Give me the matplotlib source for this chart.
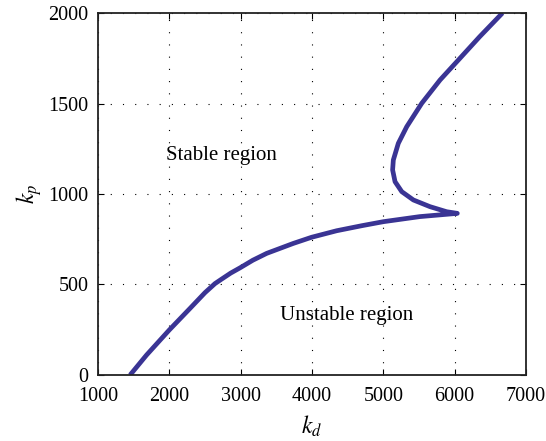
import matplotlib
matplotlib.use("Agg")
import matplotlib.pyplot as plt

# boundary curve (kd, kp)
kd = [1450, 1680, 2000, 2290, 2500, 2640, 2734, 2860, 2991, 3170, 3365, 3738, 3995,
      4346, 4700, 5000, 5510, 6037, 5888, 5654, 5421, 5258, 5164, 5130, 5140,
      5210, 5328, 5538, 5795, 6051, 6350, 6670]
kp = [0, 110, 249, 368, 455, 505, 530, 563, 592, 634, 672, 727, 761,
      797, 825, 847, 875, 893, 902, 930, 967, 1013, 1068, 1133, 1188,
      1280, 1372, 1501, 1630, 1740, 1869, 2000]

xticks = [1000, 2000, 3000, 4000, 5000, 6000, 7000]
yticks = [0, 500, 1000, 1500, 2000]

plt.rcParams['font.family'] = ['Liberation Serif', 'DejaVu Serif']
plt.rcParams['mathtext.fontset'] = 'stix'

fig = plt.figure(figsize=(5.46, 4.41), dpi=100)
ax = fig.add_axes([0.1795, 0.1497, 0.7839, 0.8208])

ax.plot(kd, kp, color='#3a3494', lw=3.4, solid_capstyle='butt', solid_joinstyle='round')

ax.set_xlim(1000, 7000)
ax.set_ylim(0, 2000)
ax.set_xticks(xticks)
ax.set_yticks(yticks)
ax.tick_params(direction='in', top=True, right=True, labelsize=14.5, length=4, width=0.8, pad=7)
ax.tick_params(axis='x', pad=9)
ax.grid(True, color='black', linestyle=(0, (1, 10)), linewidth=0.8)
for s in ax.spines.values():
    s.set_linewidth(1.3)
    s.set_color('#222222')

ax.text(2724, 1210, 'Stable region', fontsize=15, ha='center', va='center')
ax.text(4490, 331, 'Unstable region', fontsize=15, ha='center', va='center')

ax.set_xlabel('$k_d$', fontsize=17, labelpad=5)
ax.set_ylabel('$k_p$', fontsize=17, labelpad=3)

fig.savefig('out.png', dpi=100)
